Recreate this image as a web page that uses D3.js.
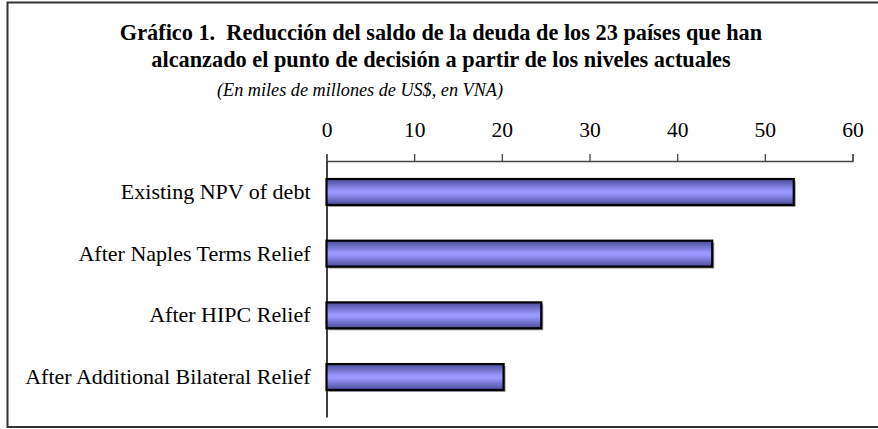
<!DOCTYPE html>
<html>
<head>
<meta charset="utf-8">
<script src="https://cdn.jsdelivr.net/npm/d3@7"></script>
<style>
  body { margin: 0; background: #fff; }
  svg { display: block; font-family: "Liberation Serif", "Times New Roman", serif; }
</style>
</head>
<body>
<svg id="chart"></svg>
<script>
const categories = [
  "Existing NPV of debt",
  "After Naples Terms Relief",
  "After HIPC Relief",
  "After Additional Bilateral Relief"
];
const values = [53.3, 44.0, 24.5, 20.2];
const tickValues = [0, 10, 20, 30, 40, 50, 60];
const titleLines = [
  "Gráfico 1.\u00a0 Reducción del saldo de la deuda de los 23 países que han",
  "alcanzado el punto de decisión a partir de los niveles actuales"
];
const subtitle = "(En miles de millones de US$, en VNA)";

const width = 878, height = 429;
const margin = { top: 161, right: 25.5, bottom: 12, left: 326.5 };

const svg = d3.select("#chart").attr("width", width).attr("height", height);

// frame
svg.append("path")
  .attr("d", "M880,2.5 H7.5 V427 H880")
  .attr("fill", "none")
  .attr("stroke", "#333")
  .attr("stroke-width", 2);

// gradient for bars
const defs = svg.append("defs");
const grad = defs.append("linearGradient")
  .attr("id", "barGrad")
  .attr("x1", 0).attr("y1", 0).attr("x2", 0).attr("y2", 1);
grad.append("stop").attr("offset", "0%").attr("stop-color", "#4a4a99");
grad.append("stop").attr("offset", "45%").attr("stop-color", "#9999ff");
grad.append("stop").attr("offset", "55%").attr("stop-color", "#9999ff");
grad.append("stop").attr("offset", "100%").attr("stop-color", "#4a4a99");

// titles
svg.append("g")
  .selectAll("text")
  .data(titleLines)
  .join("text")
  .attr("x", 441)
  .attr("y", (d, i) => 40 + i * 27)
  .attr("text-anchor", "middle")
  .attr("font-weight", "bold")
  .attr("font-size", 22.3)
  .attr("fill", "#000")
  .text(d => d);

svg.append("text")
  .attr("x", 360)
  .attr("y", 96)
  .attr("text-anchor", "middle")
  .attr("font-style", "italic")
  .attr("font-size", 18.2)
  .text(subtitle);

// scales
const x = d3.scaleLinear()
  .domain([0, 60])
  .range([margin.left, width - margin.right]);

const y = d3.scaleBand()
  .domain(categories)
  .range([margin.top, height - margin.bottom])
  .paddingInner(0.58)
  .paddingOuter(0.365)
  .align(0.4);

// top axis
const xAxis = svg.append("g")
  .attr("transform", "translate(0," + margin.top + ")")
  .call(d3.axisTop(x).tickValues(tickValues).tickSize(7).tickSizeOuter(7).tickPadding(17));
xAxis.selectAll("path, line").attr("stroke", "#444").attr("stroke-width", 1.3);
xAxis.selectAll("text")
  .attr("font-family", "Liberation Serif, serif")
  .attr("font-size", 21.5)
  .attr("fill", "#000");

// left axis line
const yAxis = svg.append("g")
  .attr("transform", "translate(" + margin.left + ",0)")
  .call(d3.axisLeft(y).tickSize(0).tickPadding(16));
yAxis.select("path").attr("stroke", "#000").attr("stroke-width", 1.5);
yAxis.selectAll("text")
  .attr("font-family", "Liberation Serif, serif")
  .attr("font-size", 22)
  .attr("fill", "#000");

const data = categories.map((c, i) => ({ cat: c, value: values[i] }));

// shadows
svg.append("g")
  .selectAll("rect")
  .data(data)
  .join("rect")
  .attr("x", x(0) + 2)
  .attr("y", d => y(d.cat) + 2)
  .attr("width", d => x(d.value) - x(0))
  .attr("height", y.bandwidth())
  .attr("fill", "#999");

// bars
svg.append("g")
  .selectAll("rect")
  .data(data)
  .join("rect")
  .attr("x", x(0))
  .attr("y", d => y(d.cat))
  .attr("width", d => x(d.value) - x(0))
  .attr("height", y.bandwidth())
  .attr("fill", "url(#barGrad)")
  .attr("stroke", "#000")
  .attr("stroke-width", 2.2);
</script>
</body>
</html>
